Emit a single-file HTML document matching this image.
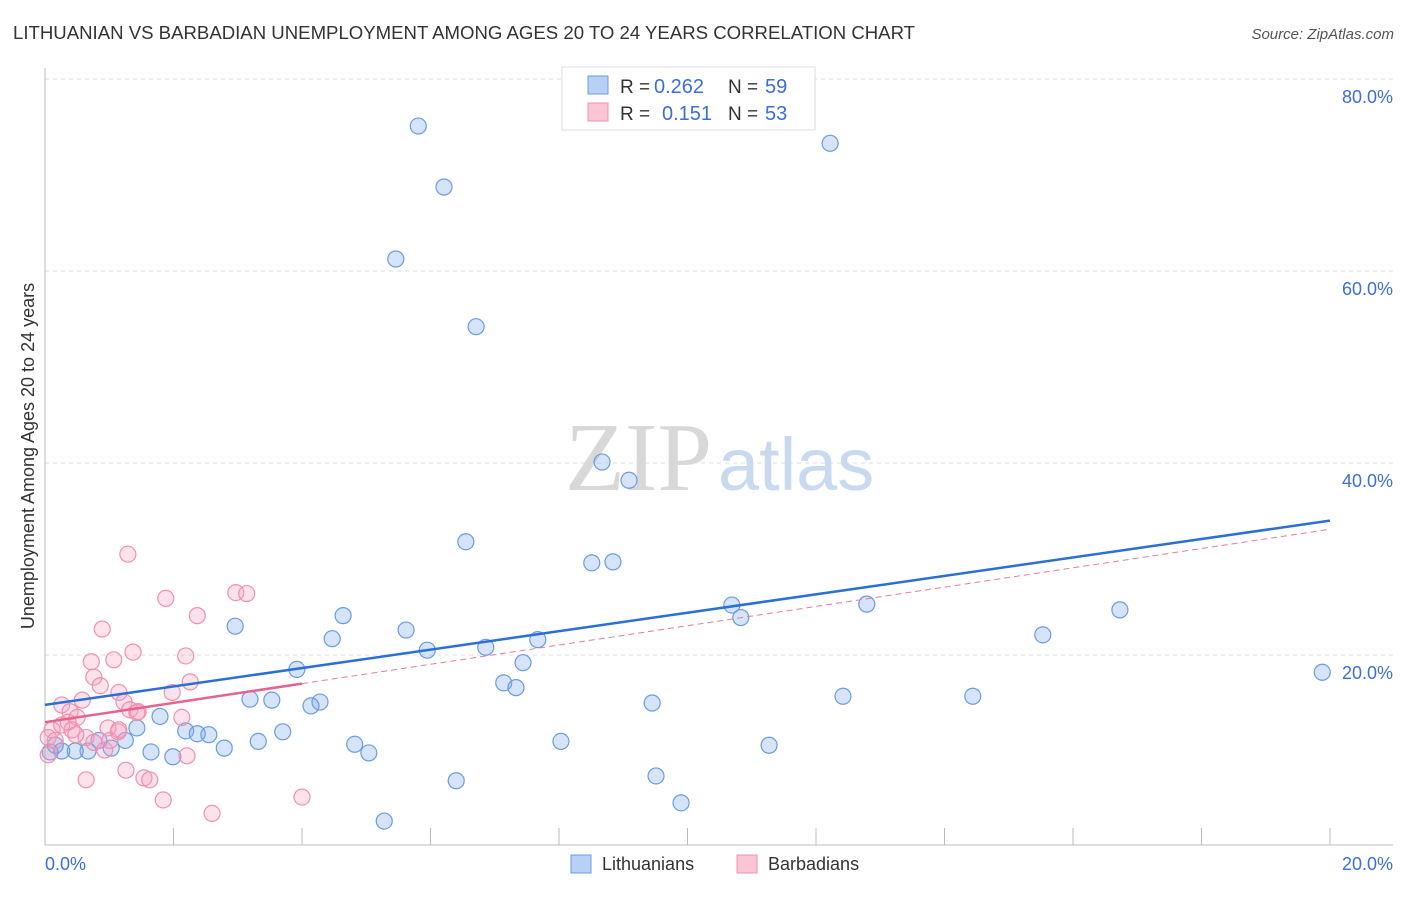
<!DOCTYPE html>
<html><head><meta charset="utf-8"><style>
body{margin:0;background:#fff;font-family:"Liberation Sans",sans-serif}
svg text{font-family:"Liberation Sans",sans-serif}
</style></head><body>
<svg width="1406" height="892" viewBox="0 0 1406 892">
<text x="13" y="39" font-size="18.6" fill="#333">LITHUANIAN VS BARBADIAN UNEMPLOYMENT AMONG AGES 20 TO 24 YEARS CORRELATION CHART</text>
<text x="1394" y="39" font-size="15" fill="#555" font-style="italic" text-anchor="end">Source: ZipAtlas.com</text>
<g id="grid"></g>
<text x="712" y="490" font-size="98" fill="#d8d8d8" text-anchor="end" font-family="Liberation Serif" style="font-family:'Liberation Serif',serif">ZIP</text>
<text x="718" y="490" font-size="74" fill="#c9d9f0">atlas</text>
<g id="marks"></g>
<text transform="translate(34,456) rotate(-90)" font-size="18" fill="#333" text-anchor="middle">Unemployment Among Ages 20 to 24 years</text>
<text x="45" y="870" font-size="18" fill="#3b6fd4">0.0%</text>
<text x="1393" y="870" font-size="18" fill="#3b6fd4" text-anchor="end">20.0%</text>
<g>
<rect x="562" y="67" width="253" height="63" fill="#fff" stroke="#ddd"/>
<rect x="588" y="76" width="20" height="18" fill="#b8d0f5" stroke="#6a9be0"/>
<rect x="588" y="103" width="20" height="18" fill="#fbc5d5" stroke="#f08fb0"/>
<text x="620" y="93" font-size="19" fill="#333">R =</text>
<text x="654" y="93" font-size="20" fill="#3b6fd4">0.262</text>
<text x="728" y="93" font-size="19" fill="#333">N =</text>
<text x="765" y="93" font-size="20" fill="#3b6fd4">59</text>
<text x="620" y="120" font-size="19" fill="#333">R =</text>
<text x="662" y="120" font-size="20" fill="#3b6fd4">0.151</text>
<text x="728" y="120" font-size="19" fill="#333">N =</text>
<text x="765" y="120" font-size="20" fill="#3b6fd4">53</text>
</g>
<g>
<rect x="571" y="855" width="20" height="18" fill="#b8d0f5" stroke="#6a9be0"/>
<text x="602" y="870" font-size="18" fill="#333">Lithuanians</text>
<rect x="737" y="855" width="20" height="18" fill="#fbc5d5" stroke="#f08fb0"/>
<text x="768" y="870" font-size="18" fill="#333">Barbadians</text>
</g>
</svg>
<script>
const yTicks=[20,40,60,80];
const yTickLabels=["20.0%","40.0%","60.0%","80.0%"];
const xTickVals=[0,2,4,6,8,10,12,14,16,18,20];
const blueX=[5.81,6.21,5.46,6.71,12.22,8.67,9.09,6.55,8.51,8.84,10.69,10.83,12.79,16.73,15.53,19.88,2.96,4.64,4.47,5.62,5.95,6.86,7.67,7.44,3.92,7.14,7.33,3.19,3.53,4.28,4.14,1.79,1.43,2.19,2.37,2.55,3.70,3.32,2.79,1.65,1.99,4.82,5.04,8.03,9.45,12.42,14.44,11.27,6.40,9.51,9.90,5.28,1.25,1.03,0.84,0.67,0.47,0.26,0.08,0.16];
const blueY=[75.1,68.75,61.25,54.2,73.3,40.1,38.2,31.8,29.6,29.7,25.2,23.9,25.3,24.7,22.1,18.2,23.0,24.1,21.7,22.6,20.5,20.8,21.6,19.2,18.5,17.1,16.6,15.4,15.3,15.1,14.7,13.6,12.4,12.1,11.8,11.7,12.0,11.0,10.3,9.9,9.4,10.7,9.8,11.0,15.0,15.7,15.7,10.6,6.9,7.4,4.6,2.7,11.1,10.3,11.1,10.0,10.0,10.0,9.9,10.6];
const pinkX=[1.29,1.88,2.97,3.14,2.37,0.89,1.37,2.19,0.72,1.07,0.76,0.86,2.26,1.15,1.98,0.58,1.23,1.32,0.26,0.39,0.50,2.13,1.43,0.98,1.14,0.26,0.11,0.42,0.64,0.76,0.05,0.16,1.01,0.93,0.05,1.26,1.54,1.63,0.64,2.21,1.84,4.0,2.60,0.36,0.48,1.15,1.45];
const pinkY=[30.5,25.9,26.5,26.4,24.1,22.7,20.3,19.9,19.3,19.5,17.7,16.8,17.2,16.1,16.1,15.3,15.1,14.3,14.8,14.1,13.5,13.5,14.0,12.4,12.0,12.7,12.2,12.2,11.4,10.9,11.4,11.1,11.1,10.1,9.6,8.0,7.2,7.0,7.0,9.5,4.9,5.2,3.5,13.0,11.7,12.2,14.1];
const blueTrend=[14.8,34.0];
const pinkTrend=[13.0,33.1];
const pinkSolidEnd=4.0;
const NS="http://www.w3.org/2000/svg";
const X=v=>45+v*64.25, Y=v=>847-v*9.6;
function mk(t,a,p){const e=document.createElementNS(NS,t);for(const k in a)e.setAttribute(k,a[k]);p.appendChild(e);return e;}
const gridG=document.getElementById('grid'), marksG=document.getElementById('marks');
yTicks.forEach((v,i)=>{
 const l=mk('line',{x1:45,x2:1393,y1:Y(v),y2:Y(v),stroke:'#ddd','stroke-dasharray':'4,4'},gridG);
 
 
 const t=mk('text',{x:1393,y:Y(v)+24,'font-size':18,fill:'#3b6fd4','text-anchor':'end'},gridG);
 t.textContent=yTickLabels[i];
 
 
});
const topLine=mk('line',{x1:45,x2:1393,y1:79,y2:79,stroke:'#ddd','stroke-dasharray':'4,4'},gridG);


const ya=mk('line',{x1:45,x2:45,y1:68,y2:845,stroke:'#bbb'},gridG);


const xa=mk('line',{x1:45,x2:1393,y1:845,y2:845,stroke:'#bbb'},gridG);


xTickVals.forEach(v=>{const t=mk('line',{x1:X(v),x2:X(v),y1:828,y2:845,stroke:'#bbb'},gridG);
 
 });
blueX.forEach((v,i)=>{const c=mk('circle',{cx:X(v),cy:Y(blueY[i]),r:8,fill:'rgba(120,165,235,0.3)',stroke:'#6a9be0','stroke-width':1.2},marksG);
 
 });
pinkX.forEach((v,i)=>{const c=mk('circle',{cx:X(v),cy:Y(pinkY[i]),r:8,fill:'rgba(245,160,190,0.3)',stroke:'#f08fb0','stroke-width':1.2},marksG);
 
 });
const pk=v=>pinkTrend[0]+(pinkTrend[1]-pinkTrend[0])*v/20;
const pd=mk('line',{x1:X(pinkSolidEnd),y1:Y(pk(pinkSolidEnd)),x2:X(20),y2:Y(pinkTrend[1]),stroke:'#e87aa0','stroke-width':1,'stroke-dasharray':'6,4'},marksG);


const ps=mk('line',{x1:X(0),y1:Y(pinkTrend[0]),x2:X(pinkSolidEnd),y2:Y(pk(pinkSolidEnd)),stroke:'#e8628f','stroke-width':2.5},marksG);


const bl=mk('line',{x1:X(0),y1:Y(blueTrend[0]),x2:X(20),y2:Y(blueTrend[1]),stroke:'#2a6fd8','stroke-width':2.5},marksG);


</script>
</body></html>
